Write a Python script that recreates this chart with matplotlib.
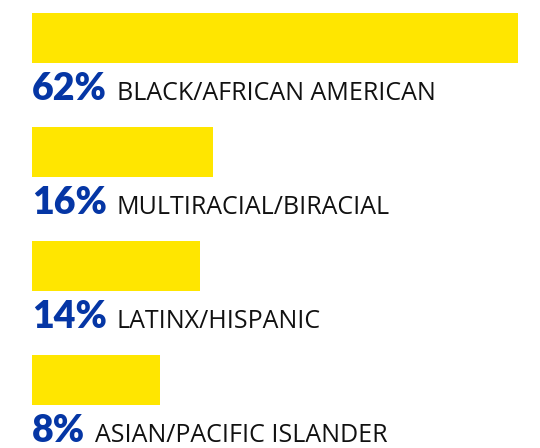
import matplotlib
matplotlib.use("Agg")
import matplotlib.pyplot as plt

# share of students by race/ethnicity
categories = ["BLACK/AFRICAN AMERICAN", "MULTIRACIAL/BIRACIAL", "LATINX/HISPANIC", "ASIAN/PACIFIC ISLANDER"]
values = [62, 16, 14, 8]
pct_labels = ["62%", "16%", "14%", "8%"]

YELLOW = "#FFE600"
BLUE = "#0536A5"

fig = plt.figure(figsize=(5.4, 4.48), dpi=100)
ax = fig.add_axes([32 / 540, 0, 508 / 540, 1])

# bars grow out of a small stub, so the axis starts a little below zero
x0 = -11.3
ax.set_xlim(x0, 65.3)
ax.set_ylim(3.596, -0.333)

pos = list(range(len(values)))
ax.barh(pos, [v - x0 for v in values], left=x0, height=0.44, color=YELLOW)

for i, (pct, cat) in enumerate(zip(pct_labels, categories)):
    t = ax.text(x0, i + 0.544, pct, color=BLUE, fontsize=27, fontweight="heavy",
                family="Lato", va="baseline", ha="left")
    ax.annotate(cat, xy=(1, i + 0.544), xycoords=(t, "data"),
                xytext=(7, 0), textcoords="offset points",
                fontsize=18, family="Open Sans", color="#111111",
                va="baseline", ha="left")

ax.axis("off")
fig.savefig("out.png", dpi=100)
